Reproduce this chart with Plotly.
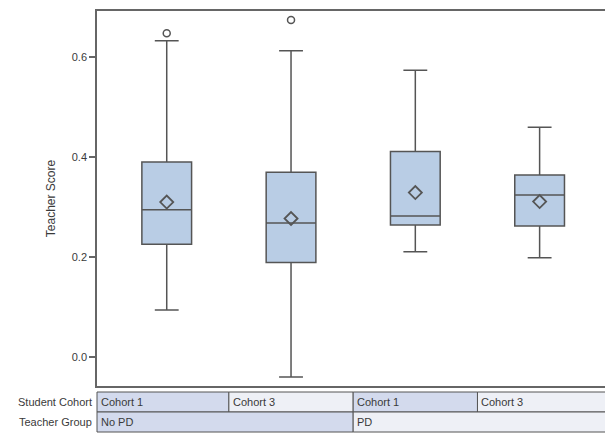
import plotly.graph_objects as go

# ---- data ----
cohorts = ["Cohort 1", "Cohort 3", "Cohort 1", "Cohort 3"]
groups = ["No PD", "PD"]
group_of_box = [0, 0, 1, 1]
q1 = [0.2254, 0.189, 0.264, 0.262]
median = [0.2947, 0.268, 0.282, 0.324]
q3 = [0.390, 0.3695, 0.411, 0.364]
lowerfence = [0.0936, -0.0406, 0.2104, 0.1984]
upperfence = [0.633, 0.613, 0.574, 0.460]
means = [0.310, 0.277, 0.329, 0.311]
outlier_box = [0, 1]
outlier_val = [0.648, 0.6748]
yticks = [0.0, 0.2, 0.4, 0.6]
ytick_text = ["0.0", "0.2", "0.4", "0.6"]

# ---- style ----
BOX_FILL = "#b9cde5"
LINE = "#555555"
TXT = "#3a3a3a"
CELL_A = "#d3daed"
CELL_B = "#eef0f6"
FONT = "Liberation Sans, Arial, sans-serif"

W, H = 605, 434
ML, MR, MT, MB = 97, 0, 11, 48
XMIN, XMAX = -0.561, 3.526
YMIN, YMAX = -0.0587, 0.6928
plot_h = H - MT - MB

fig = go.Figure()
xs = list(range(len(cohorts)))
for i in xs:
    fig.add_trace(go.Box(
        x=[i], q1=[q1[i]], median=[median[i]], q3=[q3[i]],
        lowerfence=[lowerfence[i]], upperfence=[upperfence[i]],
        width=0.4, whiskerwidth=0.48, boxpoints=False,
        fillcolor=BOX_FILL, line=dict(color=LINE, width=1.5),
        showlegend=False, hoverinfo="skip"))

fig.add_trace(go.Scatter(
    x=xs, y=means, mode="markers",
    marker=dict(symbol="diamond-open", size=10, color=LINE, line=dict(width=1.8, color=LINE)),
    showlegend=False))
fig.add_trace(go.Scatter(
    x=[xs[b] for b in outlier_box], y=outlier_val, mode="markers",
    marker=dict(symbol="circle-open", size=7, color=LINE, line=dict(width=1.5, color=LINE)),
    showlegend=False))

def px(xd):
    return (xd - XMIN) / (XMAX - XMIN)

def py(pix_from_top):
    return (H - MB - pix_from_top) / plot_h

row1_top, row1_bot, row2_bot = 392, 412, 432
shapes = []
annotations = []

for i, c in enumerate(cohorts):
    x0 = XMIN if i == 0 else i - 0.5
    x1 = XMAX + 0.05 if i == len(cohorts) - 1 else i + 0.5
    shapes.append(dict(type="rect", xref="paper", yref="paper",
                       x0=px(x0), x1=px(x1), y0=py(row1_bot), y1=py(row1_top),
                       fillcolor=CELL_A if i % 2 == 0 else CELL_B,
                       line=dict(color="#555555", width=1)))
    annotations.append(dict(text=c, xref="paper", yref="paper", x=px(x0), xshift=2,
                            y=py((row1_top + row1_bot) / 2), xanchor="left", yanchor="middle",
                            showarrow=False, font=dict(size=11, color=TXT, family=FONT)))

for g, name in enumerate(groups):
    members = [i for i in xs if group_of_box[i] == g]
    x0 = XMIN if members[0] == 0 else members[0] - 0.5
    x1 = XMAX + 0.05 if members[-1] == len(cohorts) - 1 else members[-1] + 0.5
    shapes.append(dict(type="rect", xref="paper", yref="paper",
                       x0=px(x0), x1=px(x1), y0=py(row2_bot), y1=py(row1_bot),
                       fillcolor=CELL_A if g % 2 == 0 else CELL_B,
                       line=dict(color="#555555", width=1)))
    annotations.append(dict(text=name, xref="paper", yref="paper", x=px(x0), xshift=2,
                            y=py((row1_bot + row2_bot) / 2), xanchor="left", yanchor="middle",
                            showarrow=False, font=dict(size=11, color=TXT, family=FONT)))

for label, ya, yb in [("Student Cohort", row1_top, row1_bot), ("Teacher Group", row1_bot, row2_bot)]:
    annotations.append(dict(text=label, xref="paper", yref="paper", x=0, xshift=-3,
                            y=py((ya + yb) / 2), xanchor="right", yanchor="middle",
                            showarrow=False, font=dict(size=11, color=TXT, family=FONT)))

fig.update_layout(
    width=W, height=H,
    margin=dict(l=ML, r=MR, t=MT, b=MB, pad=0),
    paper_bgcolor="white", plot_bgcolor="white",
    font=dict(family=FONT, size=11, color=TXT),
    shapes=shapes, annotations=annotations,
    xaxis=dict(range=[XMIN, XMAX], showgrid=False, zeroline=False, showticklabels=False,
               ticks="", showline=True, mirror=True, linecolor="#666666", linewidth=1.5),
    yaxis=dict(range=[YMIN, YMAX], showgrid=False, zeroline=False,
               tickvals=yticks, ticktext=ytick_text, ticks="outside", ticklen=6,
               tickcolor="#666666", tickwidth=1.5,
               showline=True, mirror=False, linecolor="#666666", linewidth=1.5,
               title=dict(text="Teacher Score", font=dict(size=12, color=TXT), standoff=14),
               tickfont=dict(size=11, color=TXT)),
)

fig.write_html("out.html", config={"displayModeBar": False},
               post_script="document.body.style.margin='0';document.body.style.padding='0';document.body.style.overflow='hidden';")
